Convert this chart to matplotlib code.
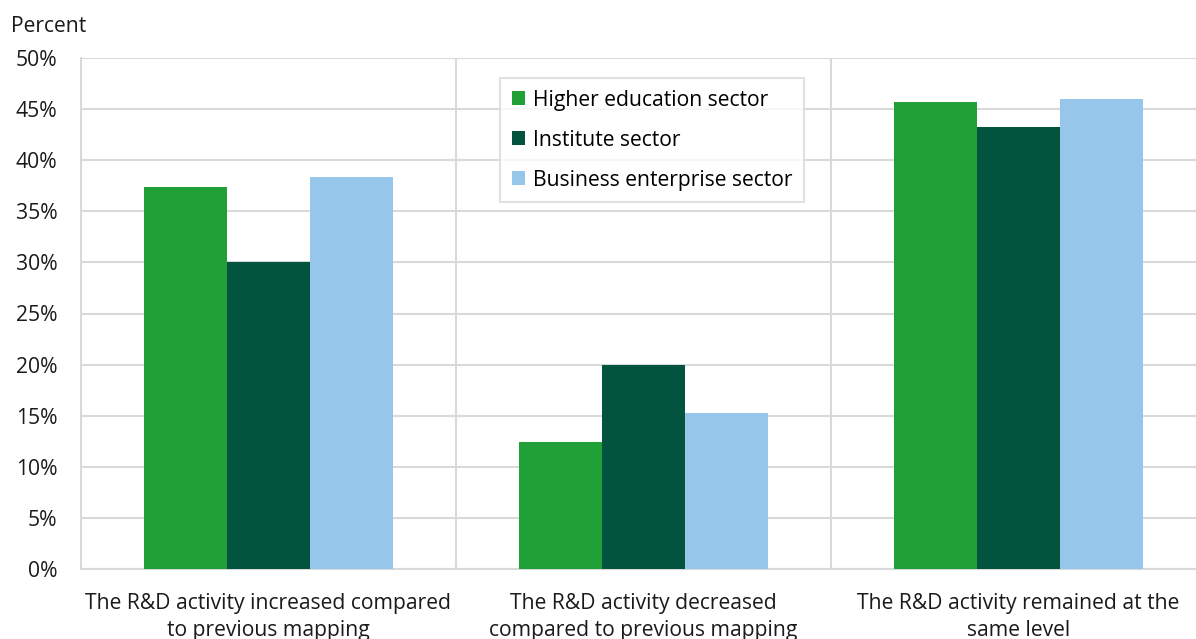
import numpy as np
import matplotlib
matplotlib.use("Agg")
import matplotlib.pyplot as plt

categories = [
    "The R&D activity increased compared\nto previous mapping",
    "The R&D activity decreased\ncompared to previous mapping",
    "The R&D activity remained at the\nsame level",
]
series_names = ["Higher education sector", "Institute sector", "Business enterprise sector"]
higher_ed = [37.4, 12.4, 45.7]
institute = [30.0, 20.0, 43.2]
business = [38.4, 15.3, 46.0]
colors = ["#21a038", "#02543f", "#96c6ea"]

plt.rcParams["font.family"] = ["Open Sans", "DejaVu Sans"]
plt.rcParams["font.size"] = 15.2

fig = plt.figure(figsize=(11.96, 6.39), dpi=100)
W, H = 1196, 639
left, right, top, bottom = 81, 1206, 58, 569
ax = fig.add_axes([left / W, 1 - bottom / H, (right - left) / W, (bottom - top) / H])

x = np.arange(len(categories))
width = 0.222
for i, (vals, name) in enumerate(zip([higher_ed, institute, business], series_names)):
    ax.bar(x + (i - 1) * width, vals, width, color=colors[i], label=name, zorder=3)

ax.set_xlim(-0.5, 2.5)
ax.set_ylim(0, 50)
ax.set_yticks(np.arange(0, 51, 5))
ax.set_yticklabels([f"{v}%" for v in range(0, 51, 5)])
ax.set_xticks(x)
ax.set_xticklabels(categories, linespacing=1.38)
ax.tick_params(length=0, colors="#1a1a1a")
ax.tick_params(axis="y", pad=17)
ax.tick_params(axis="x", pad=17)

ax.grid(axis="y", color="#d9d9d9", linewidth=1.5, zorder=0)
for sep in [0.5, 1.5]:
    ax.axvline(sep, color="#d9d9d9", linewidth=1.5, zorder=0)
for s in ["top", "right"]:
    ax.spines[s].set_visible(False)
for s in ["left", "bottom"]:
    ax.spines[s].set_color("#d9d9d9")
    ax.spines[s].set_linewidth(1.5)

fig.text(11 / W, 1 - 26 / H, "Percent", va="center", ha="left", color="#1a1a1a")

leg = ax.legend(loc="upper left", bbox_to_anchor=(500 / W, 1 - 78 / H), bbox_transform=fig.transFigure,
                frameon=True, fancybox=False, edgecolor="#d9d9d9", handlelength=0.65, handleheight=0.65,
                handletextpad=0.35, labelspacing=0.9, borderpad=0.55, borderaxespad=0)
leg.get_frame().set_linewidth(1.5)
leg.set_zorder(5)

fig.savefig("out.png", dpi=100)
